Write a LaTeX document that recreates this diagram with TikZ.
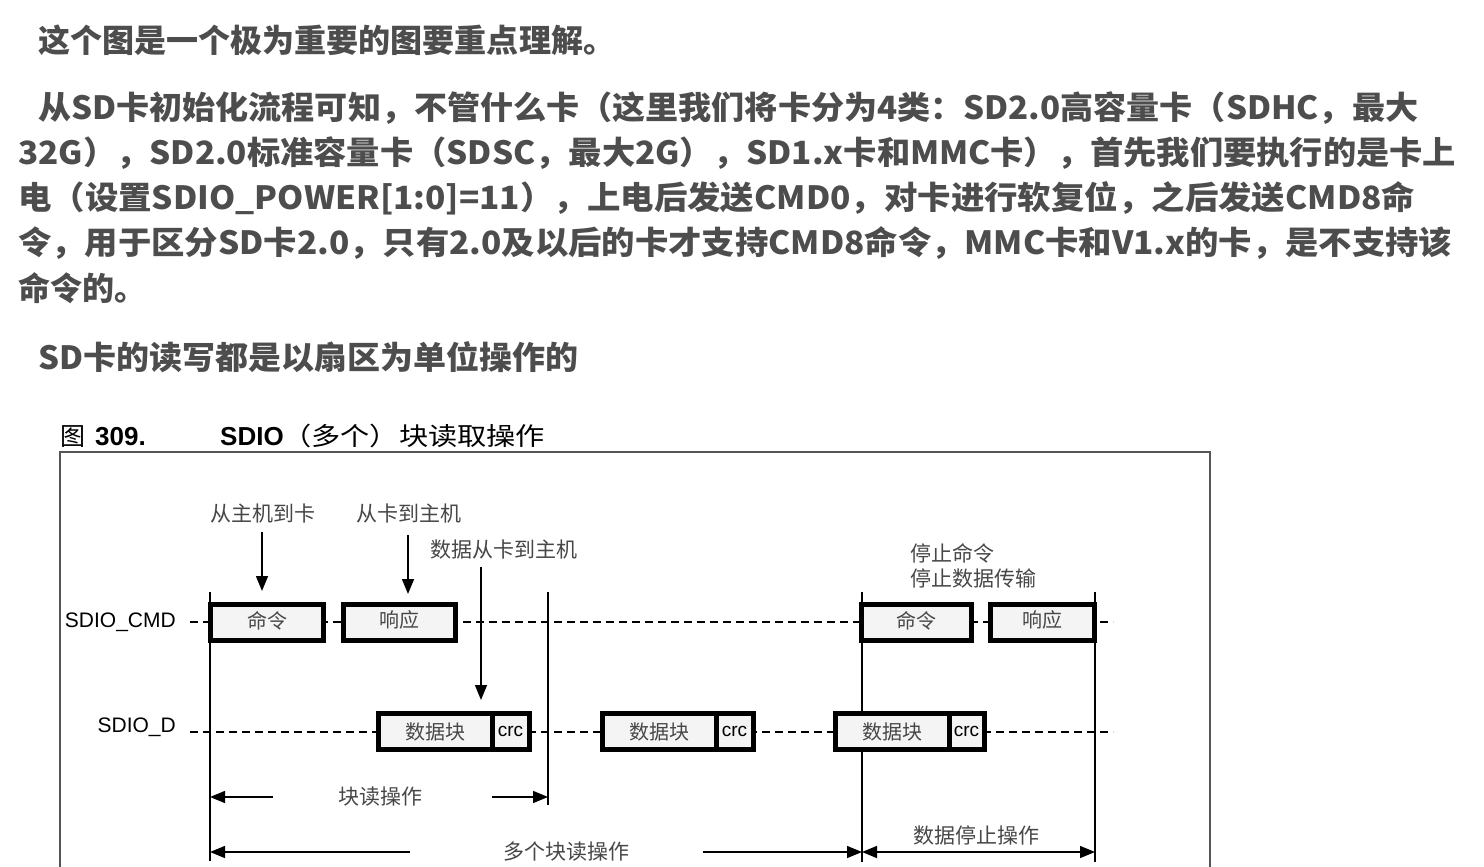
\documentclass[tikz,border=0pt]{standalone}
\usepackage{fontspec}
\usepackage{graphicx}
\usetikzlibrary{arrows.meta}
\newfontfamily\cjk{Noto Sans CJK SC}
\newfontfamily\arialf{Liberation Sans}
\definecolor{hdrgray}{HTML}{4D4D4D}
\definecolor{lblgray}{HTML}{474747}
\definecolor{boxfill}{HTML}{F3F4F3}
\definecolor{framegray}{HTML}{555555}
\newcommand{\hw}[2]{\resizebox{#1pt}{\height}{#2}}
\begin{document}
\begin{tikzpicture}[x=1pt,y=-1pt,
  hdr/.style={anchor=west, inner sep=0, text=hdrgray, font=\cjk\bfseries\fontsize{32}{32}\selectfont},
  lbl/.style={inner sep=0, text=lblgray, font=\cjk\fontsize{21}{21}\selectfont},
  blk/.style={draw=black, line width=5pt, fill=boxfill, outer sep=0, inner sep=0, text=lblgray, font=\cjk\fontsize{20}{20}\selectfont},
  crcbox/.style={blk, text=black, font=\arialf\fontsize{19}{19}\selectfont},
  sigline/.style={line width=1.2pt, dash pattern=on 8pt off 5pt, black},
  tline/.style={line width=1.2pt, black},
  arr/.style={line width=1.5pt, -{Triangle[length=15pt,width=12pt]}},
  darr/.style={line width=1.5pt, {Triangle[length=15pt,width=12pt]}-{Triangle[length=15pt,width=12pt]}},
  signame/.style={anchor=east, inner sep=0, font=\arialf\fontsize{21}{21}\selectfont, text=black}
]
\useasboundingbox (0,0) rectangle (1484,867);
\fill[white] (0,0) rectangle (1484,867);

% ---- header text ----
\node[hdr] (h0) at (38,40) {\hw{577}{这个图是一个极为重要的图要重点理解。}};
\node[hdr] (h1) at (38,108) {\hw{1380}{从SD卡初始化流程可知，不管什么卡（这里我们将卡分为4类：SD2.0高容量卡（SDHC，最大}};
\node[hdr] (h2) at (18,153) {\hw{1438}{32G），SD2.0标准容量卡（SDSC，最大2G），SD1.x卡和MMC卡），首先我们要执行的是卡上}};
\node[hdr] (h3) at (18,198) {\hw{1397}{电（设置SDIO\_POWER[1:0]=11），上电后发送CMD0，对卡进行软复位，之后发送CMD8命}};
\node[hdr] (h4) at (18,243) {\hw{1434}{令，用于区分SD卡2.0，只有2.0及以后的卡才支持CMD8命令，MMC卡和V1.x的卡，是不支持该}};
\node[hdr] (h5) at (18,288) {命令的。};
\node[hdr] (h6) at (38,357) {\hw{540}{SD卡的读写都是以扇区为单位操作的}};

% ---- caption ----
\node[anchor=base west, inner sep=0, font=\cjk\fontsize{25}{25}\selectfont] (capfig) at (60,445) {图};
\node[anchor=base west, inner sep=0, font=\arialf\bfseries\fontsize{26}{26}\selectfont] (capnum) at (95,445) {309.};
\node[anchor=base west, inner sep=0, font=\arialf\bfseries\fontsize{26}{26}\selectfont] (capsd) at (220,445) {SDIO};
\node[anchor=base west, inner sep=0, font=\cjk\fontsize{25}{25}\selectfont] (captitle) at (282,445) {\hw{263}{（多个）块读取操作}};

% ---- frame ----
\coordinate (fbl) at (60,867);
\coordinate (ftl) at (60,452);
\coordinate (ftr) at (1210,452);
\coordinate (fbr) at (1210,867);
\draw[framegray, line width=1.6pt] (fbl) -- (ftl) -- (ftr) -- (fbr);

% ---- signal lines ----
\node[signame] (ncmd) at (176,622) {SDIO\_CMD};
\node[signame] (nd) at (176,727) {SDIO\_D};
\coordinate (cmdL) at (190,622);
\coordinate (cmdR) at (1113,622);
\coordinate (dL) at (190,732);
\coordinate (dR) at (1113,732);
\draw[sigline] (cmdL) -- (cmdR);
\draw[sigline] (dL) -- (dR);

% ---- time markers ----
\coordinate (t1a) at (210,592); \coordinate (t1b) at (210,861);
\coordinate (t2a) at (548,592); \coordinate (t2b) at (548,805);
\coordinate (t3a) at (862,592); \coordinate (t3b) at (862,862);
\coordinate (t4a) at (1095,592); \coordinate (t4b) at (1095,862);
\draw[tline] (t1a) -- (t1b);
\draw[tline] (t2a) -- (t2b);
\draw[tline] (t3a) -- (t3b);
\draw[tline] (t4a) -- (t4b);

% ---- command / response boxes ----
\node[blk, minimum width=113pt, minimum height=36pt, text depth=5pt] (c1) at (267,622) {命令};
\node[blk, minimum width=112pt, minimum height=36pt, text depth=5pt] (r1) at (399.5,622) {响应};
\node[blk, minimum width=110pt, minimum height=36pt, text depth=5pt] (c2) at (916.5,622) {命令};
\node[blk, minimum width=104pt, minimum height=36pt, text depth=5pt] (r2) at (1042.5,622) {响应};

% ---- data blocks ----
\node[blk, minimum width=113.5pt, minimum height=36pt] (d1) at (435.25,731.5) {数据块};
\node[crcbox, anchor=west, minimum width=37pt, minimum height=36pt] (k1) at (d1.east) {crc};
\node[blk, minimum width=113.5pt, minimum height=36pt] (d2) at (659.25,731.5) {数据块};
\node[crcbox, anchor=west, minimum width=37pt, minimum height=36pt] (k2) at (d2.east) {crc};
\node[blk, minimum width=113.5pt, minimum height=36pt] (d3) at (892.25,731.5) {数据块};
\node[crcbox, anchor=west, minimum width=35pt, minimum height=36pt] (k3) at (d3.east) {crc};

% ---- annotations ----
\node[lbl] (l1) at (263,514) {从主机到卡};
\node[lbl] (l2) at (409,514) {从卡到主机};
\node[lbl] (l3) at (504,550) {数据从卡到主机};
\node[lbl, anchor=west, align=left, font=\cjk\fontsize{21}{25}\selectfont] (l4) at (910,566) {停止命令\\停止数据传输};

\coordinate (a1s) at (262,532); \coordinate (a1e) at (262,591);
\coordinate (a2s) at (408,535); \coordinate (a2e) at (408,594);
\coordinate (a3s) at (481,567); \coordinate (a3e) at (481,700);
\draw[arr] (a1s) -- (a1e);
\draw[arr] (a2s) -- (a2e);
\draw[arr] (a3s) -- (a3e);

% ---- operation spans ----
\node[lbl] (op1) at (380,797) {块读操作};
\node[lbl] (op2) at (566,852) {多个块读操作};
\node[lbl] (op3) at (976,835) {数据停止操作};
\coordinate (b1s) at (273,797); \coordinate (b1e) at (210,797);
\coordinate (b2s) at (492,797); \coordinate (b2e) at (548,797);
\coordinate (m1s) at (410,852); \coordinate (m1e) at (210,852);
\coordinate (m2s) at (703,852); \coordinate (m2e) at (862,852);
\coordinate (s1) at (862,852); \coordinate (s2) at (1095,852);
\draw[arr] (b1s) -- (b1e);
\draw[arr] (b2s) -- (b2e);
\draw[arr] (m1s) -- (m1e);
\draw[arr] (m2s) -- (m2e);
\draw[darr] (s1) -- (s2);
\end{tikzpicture}
\end{document}
